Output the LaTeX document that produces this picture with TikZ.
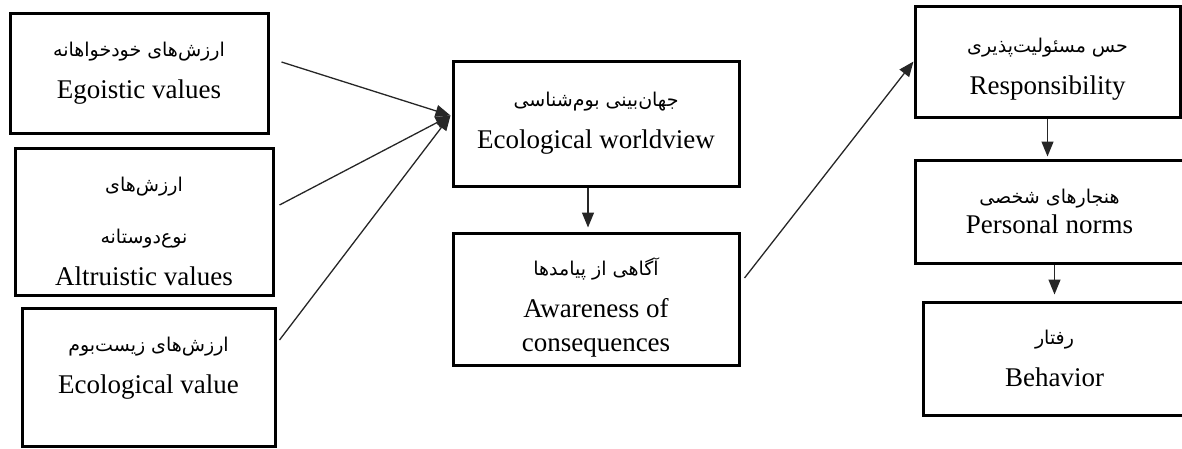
\documentclass[tikz,border=0pt]{standalone}
\usepackage{fontspec}
\setmainfont{Liberation Serif}
\newfontfamily\farsifont[Script=Arabic]{DejaVu Sans}
\TeXXeTstate=1
\usetikzlibrary{arrows.meta, positioning, calc}

\newcommand{\fa}[1]{{\farsifont\fontsize{19}{24}\selectfont\beginR #1\endR}}

\begin{document}
\begin{tikzpicture}[x=1pt,y=-1pt,on grid,>={Triangle[length=15pt,width=12pt]},
        box/.style={draw,line width=3pt,align=center,inner sep=0pt,
                    font=\fontsize{27}{42}\selectfont},
        link/.style={->,line width=1.3pt,draw=black!85}]
    \useasboundingbox (0,0) rectangle (1182,448);

    % values
    \node[box,minimum width=258pt,minimum height=120pt] (ego) at (139,73)
        {\fa{ارزش^^^^200cهای خودخواهانه}\\Egoistic values};
    \node[box,minimum width=258pt,minimum height=147pt] (alt) at (144,221.5)
        {\rule{0pt}{35pt}\fa{ارزش^^^^200cهای}\\[10pt]\fa{نوع^^^^200cدوستانه}\\Altruistic values};
    \node[box,minimum width=253pt,minimum height=138pt] (eco) at (148.5,377)
        {\fa{ارزش^^^^200cهای زیست^^^^200cبوم}\\Ecological value\\[-18pt]\mbox{}};

    % middle column
    \node[box,minimum width=286pt,minimum height=125pt] (world) at (596,123.5)
        {\fa{جهان^^^^200cبینی بوم^^^^200cشناسی}\\Ecological worldview};
    \node[box,minimum width=286pt,minimum height=132pt] (aware) [below=175.5pt of world]
        {\rule{0pt}{34pt}\fa{آگاهی از پیامدها}\\Awareness of\\[-8pt]consequences};

    % right column
    \node[box,minimum width=265pt,minimum height=111pt] (resp) at (1047.5,61.5)
        {\rule{0pt}{29pt}\fa{حس مسئولیت^^^^200cپذیری}\\Responsibility};
    \node[box,minimum width=269pt,minimum height=103pt] (norms) [below=150pt of resp,xshift=2pt]
        {\fa{هنجارهای شخصی}\\[-12pt]Personal norms};
    \node[box,minimum width=263pt,minimum height=113pt] (behav) [below=147pt of norms,xshift=5pt]
        {\fa{رفتار}\\Behavior};

    \coordinate (wtip) at ($(world.west)+(-1,-8)$);

    \draw[link] ($(ego.east)+(12,-11)$) -- (wtip);
    \draw[link] ($(alt.east)+(5,-16.5)$) -- (wtip);
    \draw[link] ($(eco.east)+(3,-37)$) -- (wtip);
    \draw[link,shorten >=4pt] ($(world.south)+(-8,0)$) -- ($(aware.north)+(-8,0)$);
    \draw[link] ($(aware.east)+(4,-21)$) -- (resp.west);
    \draw[link,shorten >=2pt] (resp.south) -- (resp.south |- norms.north);
    \draw[link,shorten >=6pt] (behav.north |- norms.south) -- (behav.north);
\end{tikzpicture}
\end{document}
